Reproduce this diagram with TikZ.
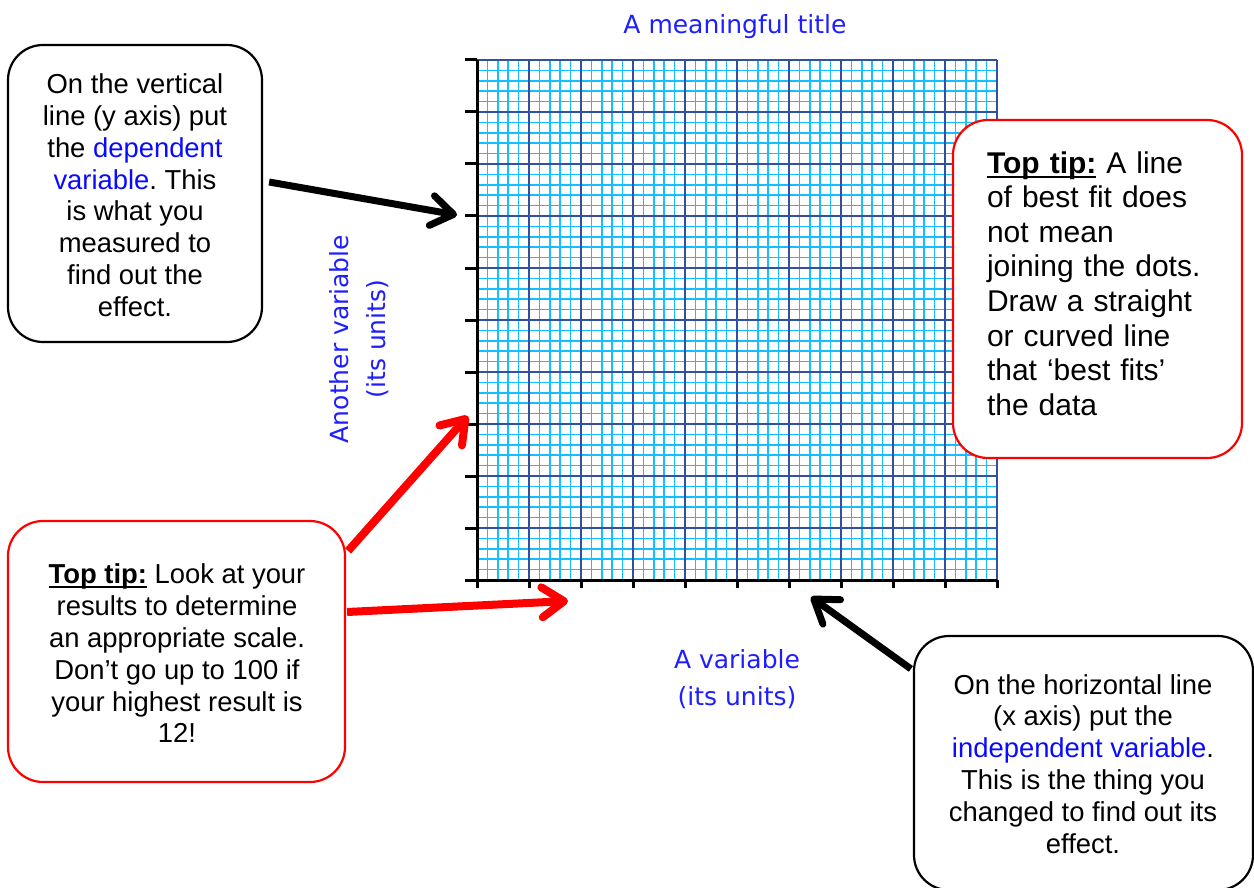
\documentclass[tikz,border=0pt]{standalone}
\usepackage{fontspec}
\setmainfont{Liberation Sans}
\newfontfamily\verd{DejaVu Sans}
\usetikzlibrary{arrows.meta,calc}
\definecolor{minorc}{RGB}{20,190,255}
\definecolor{majorc}{RGB}{50,80,160}
\definecolor{txtblue}{RGB}{10,10,255}
\definecolor{lblblue}{RGB}{30,30,255}
\newcommand\myul[1]{\setbox0\hbox{#1}\rlap{\rule[-4.5pt]{\wd0}{2pt}}\box0\relax}
\frenchspacing
\begin{document}
\begin{tikzpicture}[x=1pt,y=-1pt,
  minorline/.style={draw=minorc,line width=1.5pt},
  majorline/.style={draw=majorc,line width=1.5pt},
  axisline/.style={draw=black,line width=3pt},
  box/.style={line width=2.2pt,rounded corners=35pt,fill=white,inner sep=0pt},
  redbox/.style={box,draw=red},
  blackbox/.style={box,draw=black},
  txt/.style={align=center,inner sep=0pt,font=\frenchspacing\fontsize{27.4}{31.8}\selectfont},
  bigtxt/.style={align=left,inner sep=0pt,text width=220pt,font=\frenchspacing\fontsize{30}{34.6}\selectfont},
  lbl/.style={align=center,inner sep=0pt,text=lblblue,font=\verd\fontsize{25}{37}\selectfont},
  blackarrow/.style={draw=black,line width=7pt,-{Straight Barb[length=22pt,width=30pt,line cap=round,line join=round]}},
  redarrow/.style={draw=red,line width=8pt,-{Straight Barb[length=22pt,width=30pt,line cap=round,line join=round]}}
]
\useasboundingbox (0,0) rectangle (1254,888);
\fill[white] (0,0) rectangle (1254,888);

% grid
\foreach \i in {0,...,50}{
  \draw[minorline] ({477+10.4*\i},60) -- ({477+10.4*\i},580);
  \draw[minorline] (477,{60+10.4*\i}) -- (997,{60+10.4*\i});
}
\foreach \i in {0,...,10}{
  \draw[majorline] ({477+52*\i},60) -- ({477+52*\i},580);
  \draw[majorline] (477,{60+52*\i}) -- (997,{60+52*\i});
}
\draw[axisline] (477,60) -- (477,580) -- (997,580);
\foreach \i in {0,...,10}{
  \draw[axisline] (465,{60+52*\i}) -- (477,{60+52*\i});
  \draw[axisline] ({477+52*\i},580) -- ({477+52*\i},588);
}

% labels
\node[lbl,anchor=base] (title) at (735,34) {A meaningful title};
\node[lbl] (xlab) at (737,679) {A variable\\(its units)};
\node[lbl,rotate=90] (ylab) at (359,339) {Another variable\\(its units)};

% boxes
\node[blackbox,minimum width=254pt,minimum height=297pt] (b1) at (135,193.5) {};
\node[redbox,minimum width=289pt,minimum height=338pt] (b2) at (1097.5,289) {};
\node[redbox,minimum width=337pt,minimum height=261pt] (b3) at (176.5,651.5) {};
\node[blackbox,minimum width=339pt,minimum height=254pt] (b4) at (1083.5,763) {};

\node[txt] (t1) at (135,195.2) {On the vertical\\line (y axis) put\\the \textcolor{txtblue}{dependent}\\\textcolor{txtblue}{variable}. This\\is what you\\measured to\\find out the\\effect.};
\node[bigtxt] (t2) at (1097,283.4) {\myul{\textbf{Top tip:}} A line\\of best fit does\\not mean\\joining the dots.\\Draw a straight\\or curved line\\that ‘best fits’\\the data};
\node[txt] (t3) at (177,653.5) {\myul{\textbf{Top tip:}} Look at your\\results to determine\\an appropriate scale.\\Don’t go up to 100 if\\your highest result is\\12!};
\node[txt] (t4) at (1083,763.8) {On the horizontal line\\(x axis) put the\\\textcolor{txtblue}{independent variable}.\\This is the thing you\\changed to find out its\\effect.};

% arrows
\coordinate (tip1) at (457,215);
\coordinate (tip2) at (468,416);
\coordinate (tip3) at (568,601);
\coordinate (tip4) at (811,597);
\draw[blackarrow] ($(b1.east)+(6,-11.5)$) -- (tip1);
\draw[redarrow] ($(b3.north east)+(2,31)$) -- (tip2);
\draw[redarrow] ($(b3.east)+(1,-39.5)$) -- (tip3);
\draw[blackarrow] ($(b4.north west)+(-2,34)$) -- (tip4);
\end{tikzpicture}
\end{document}
